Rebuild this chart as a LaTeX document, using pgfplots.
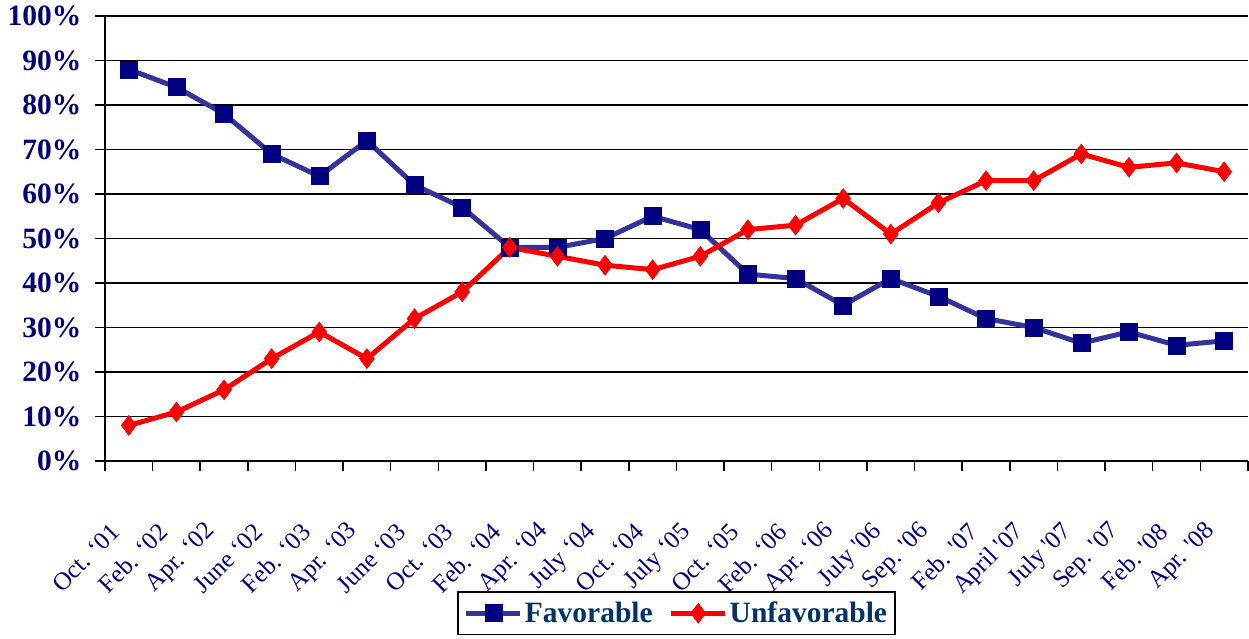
\documentclass[border=0pt]{standalone}
\usepackage{pgfplots}
\pgfplotsset{compat=1.18}
\usepackage{fontspec}
\setmainfont{Liberation Serif}
\definecolor{navy}{RGB}{0,0,128}
\definecolor{favline}{RGB}{51,51,153}
\definecolor{legtext}{RGB}{0,51,102}
\newcommand{\sq}{\textquotesingle}
\begin{document}
\begin{tikzpicture}
\begin{axis}[
  scale only axis, width=1143bp, height=445bp,
  xmin=-0.5, xmax=23.5, ymin=0, ymax=100,
  axis lines=left, axis line style={-, black, line width=2bp},
  ytick={0,10,...,100},
  yticklabels={0\%,10\%,20\%,30\%,40\%,50\%,60\%,70\%,80\%,90\%,100\%},
  ymajorgrids, major grid style={black, line width=1.5bp},
  xtick={-0.5,0.5,...,23.5},
  x tick label as interval,
  xticklabels={Oct. ‘01,Feb. ‘02,Apr. ‘02,June ‘02,Feb. ‘03,Apr. ‘03,June ‘03,Oct. ‘03,Feb. ‘04,Apr. ‘04,July ‘04,Oct. ‘04,July ‘05,Oct. ‘05,Feb. ‘06,Apr. ‘06,July \sq06,Sep. \sq06,Feb. \sq07,April \sq07,July \sq07,Sep. \sq07,Feb. \sq08,Apr. \sq08},
  tick align=outside,
  major tick length=10bp,
  every tick/.style={black, line width=1.5bp},
  yticklabel style={font=\fontsize{29.5bp}{32bp}\selectfont\bfseries, text=navy, xshift=-10bp},
  xticklabel style={font=\fontsize{25bp}{28bp}\selectfont, text=navy, inner sep=0pt, xshift=-13bp, yshift=-57bp, rotate=45, anchor=east},
  legend style={at={(0.5,-0.342)}, anchor=center, draw=black, line width=1.5bp,
    font=\fontsize{29.5bp}{32bp}\selectfont\bfseries, text=legtext,
    inner xsep=6bp, inner ysep=8bp,
    /tikz/every even column/.style={column sep=14bp}},
  legend columns=2,
  legend image code/.code={\draw[mark repeat=2,mark phase=2,#1] plot coordinates {(0bp,0bp) (27bp,0bp) (54bp,0bp)};},
]
\addplot[favline, line width=5bp, mark=square*, mark size=8.5bp, mark options={fill=navy, draw=navy, line width=0.5bp}] coordinates {
(0,88) (1,84) (2,78) (3,69) (4,64) (5,72) (6,62) (7,57) (8,48) (9,48) (10,50) (11,55) (12,52) (13,42) (14,41) (15,35) (16,41) (17,37) (18,32) (19,30) (20,26.5) (21,29) (22,26) (23,27)
};
\addlegendentry{Favorable}
\addplot[red, line width=5bp, mark=diamond*, mark size=10bp, mark options={fill=red, draw=red, line width=0.5bp}] coordinates {
(0,8) (1,11) (2,16) (3,23) (4,29) (5,23) (6,32) (7,38) (8,48) (9,46) (10,44) (11,43) (12,46) (13,52) (14,53) (15,59) (16,51) (17,58) (18,63) (19,63) (20,69) (21,66) (22,67) (23,65)
};
\addlegendentry{Unfavorable}
\end{axis}
\path (current axis.south west) ++(-105bp,-178bp) rectangle ++(1249bp,639bp);
\end{tikzpicture}
\end{document}
